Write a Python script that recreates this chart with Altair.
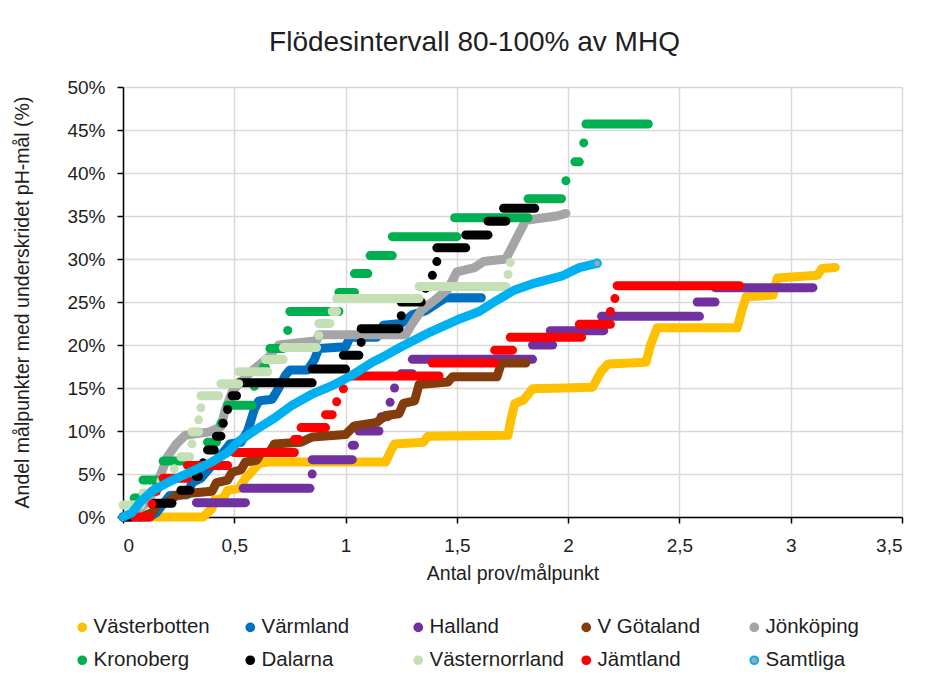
import altair as alt
import pandas as pd

SERIES = ["Västerbotten", "Värmland", "Halland", "V Götaland", "Jönköping",
          "Kronoberg", "Dalarna", "Västernorrland", "Jämtland", "Samtliga"]
COLORS = ["#FFC000", "#0070C0", "#7030A0", "#843C0C", "#A5A5A5",
          "#00B050", "#000000", "#C5E0B4", "#FF0000", "#00B0F0"]
FILLS = ["#FFC000", "#0070C0", "#7030A0", "#843C0C", "#A5A5A5",
         "#00B050", "#000000", "#C5E0B4", "#FF0000", "#A5A5A5"]

X_TICKS = [0, 0.5, 1, 1.5, 2, 2.5, 3, 3.5]
Y_TICKS = [0, 5, 10, 15, 20, 25, 30, 35, 40, 45, 50]

# ---- staircase series read as polylines (x = prov/målpunkt, y = %) ----
VBOT_X = [0.13, 0.36, 0.38, 0.40, 0.41, 0.45, 0.47, 0.52, 0.55, 0.58, 0.61, 0.65, 1.18, 1.20, 1.22, 1.35, 1.37,
          1.73, 1.74, 1.76, 1.80, 1.84, 2.11, 2.15, 2.18, 2.35, 2.37, 2.40, 2.76, 2.78, 2.80, 2.92, 2.94, 3.12, 3.14, 3.20]
VBOT_Y = [0.0, 0.0, 0.5, 1.0, 2.0, 2.2, 3.1, 3.3, 4.5, 5.3, 6.2, 6.4, 6.4, 7.5, 8.5, 8.7, 9.4,
          9.5, 11.0, 13.2, 13.6, 14.9, 15.1, 17.0, 17.8, 18.0, 20.0, 22.0, 22.0, 24.0, 25.6, 25.8, 27.8, 28.1, 28.9, 29.0]

VARM_X = [0.00, 0.12, 0.15, 0.18, 0.21, 0.29, 0.31, 0.35, 0.40, 0.45, 0.48, 0.53, 0.56, 0.59, 0.61, 0.67, 0.70,
          0.73, 0.75, 0.83, 0.86, 0.88, 1.00, 1.02, 1.14, 1.17, 1.25, 1.30, 1.36, 1.42, 1.45, 1.61]
VARM_Y = [0.0, 0.0, 0.5, 1.5, 2.5, 2.6, 4.0, 4.5, 6.0, 7.5, 8.5, 8.7, 10.0, 12.5, 13.5, 13.7, 15.0,
          16.5, 17.1, 17.1, 18.3, 19.6, 19.8, 20.9, 20.9, 22.3, 22.5, 23.5, 24.0, 25.0, 25.5, 25.5]

VGOT_X = [0.08, 0.13, 0.16, 0.20, 0.24, 0.31, 0.40, 0.42, 0.47, 0.49, 0.53, 0.55, 0.60, 0.62, 0.66, 0.68, 0.80,
          0.85, 1.00, 1.04, 1.14, 1.18, 1.24, 1.26, 1.31, 1.33, 1.46, 1.48, 1.68, 1.70, 1.81]
VGOT_Y = [0.0, 0.5, 1.5, 1.7, 2.5, 2.8, 3.0, 4.0, 4.3, 5.2, 5.5, 6.4, 6.6, 7.4, 7.6, 8.5, 8.7,
          9.3, 9.6, 10.6, 11.0, 11.8, 12.0, 13.2, 13.5, 15.4, 15.7, 16.3, 16.3, 17.9, 17.9]

JONK_X = [0.00, 0.05, 0.10, 0.14, 0.17, 0.20, 0.24, 0.28, 0.39, 0.44, 0.46, 0.49, 0.52, 0.58, 0.65, 0.70, 0.87,
          0.88, 1.27, 1.30, 1.34, 1.40, 1.46, 1.50, 1.58, 1.62, 1.72, 1.76, 1.81, 1.95, 1.99]
JONK_Y = [0.0, 0.5, 1.5, 3.0, 5.0, 7.0, 8.5, 9.5, 9.9, 10.5, 12.5, 14.5, 15.5, 17.0, 18.5, 20.0, 20.5,
          21.2, 21.2, 22.5, 24.0, 25.2, 26.5, 28.5, 29.0, 29.7, 30.0, 32.0, 34.5, 35.0, 35.3]

SAMT_X = [0.00, 0.04, 0.08, 0.13, 0.20, 0.30, 0.40, 0.47, 0.52, 0.60, 0.68, 0.76, 0.85, 0.95, 1.03, 1.12,
          1.16, 1.25, 1.38, 1.50, 1.60, 1.68, 1.76, 1.85, 1.97, 2.05, 2.13]
SAMT_Y = [0.0, 0.5, 1.8, 3.0, 4.0, 5.2, 6.4, 7.5, 8.8, 10.2, 11.5, 13.0, 14.3, 15.4, 16.5, 18.0,
          18.5, 19.8, 21.5, 22.9, 23.9, 25.2, 26.4, 27.2, 28.0, 29.0, 29.5]

# ---- step series read as horizontal runs (start x, end x, level %) ----
KRON_X0 = [0.00, 0.05, 0.09, 0.18, 0.38, 0.44, 0.47, 0.59, 0.63, 0.66, 0.74, 0.75, 0.97, 1.04, 1.11, 1.21,
           1.49, 1.82, 1.99, 2.03, 2.07, 2.08]
KRON_X1 = [0.03, 0.08, 0.15, 0.29, 0.42, 0.45, 0.58, 0.59, 0.64, 0.72, 0.74, 0.97, 1.04, 1.10, 1.21, 1.50,
           1.82, 1.97, 1.99, 2.05, 2.07, 2.36]
KRON_Y = [0.0, 2.2, 4.3, 6.5, 8.7, 10.9, 13.0, 15.2, 17.4, 19.6, 21.7, 23.9, 26.1, 28.3, 30.4, 32.6,
          34.8, 37.0, 39.1, 41.3, 43.5, 45.7]

DAL_X0 = [0.00, 0.14, 0.26, 0.33, 0.36, 0.38, 0.42, 0.45, 0.47, 0.49, 0.52, 0.85, 0.99, 1.07, 1.07, 1.25,
          1.25, 1.36, 1.39, 1.41, 1.41, 1.54, 1.64, 1.71]
DAL_X1 = [0.04, 0.22, 0.30, 0.34, 0.36, 0.41, 0.44, 0.45, 0.47, 0.51, 0.85, 1.00, 1.06, 1.07, 1.24, 1.25,
          1.34, 1.36, 1.39, 1.41, 1.54, 1.64, 1.72, 1.85]
DAL_Y = [0.0, 1.6, 3.1, 4.7, 6.3, 7.8, 9.4, 10.9, 12.5, 14.1, 15.6, 17.2, 18.8, 20.3, 21.9, 23.4,
         25.0, 26.6, 28.1, 29.7, 31.3, 32.8, 34.4, 35.9]

VNOR_X0 = [0.00, 0.09, 0.17, 0.23, 0.26, 0.31, 0.31, 0.34, 0.35, 0.35, 0.44, 0.52, 0.64, 0.72, 0.88, 0.88,
           0.94, 0.96, 1.33, 1.73, 1.74]
VNOR_X1 = [0.08, 0.10, 0.21, 0.23, 0.30, 0.31, 0.34, 0.34, 0.35, 0.43, 0.52, 0.65, 0.72, 0.87, 0.88, 0.93,
           0.96, 1.33, 1.72, 1.73, 1.74]
VNOR_Y = [1.4, 2.8, 4.2, 5.6, 7.0, 8.5, 9.9, 11.3, 12.7, 14.1, 15.5, 16.9, 18.3, 19.7, 21.1, 22.5,
          23.9, 25.4, 26.8, 28.2, 29.6]

HAL_X0 = [0.33, 0.54, 0.85, 0.85, 1.03, 1.06, 1.16, 1.20, 1.22, 1.25, 1.30, 1.84, 1.92, 2.15, 2.58, 2.66]
HAL_X1 = [0.55, 0.84, 0.85, 1.03, 1.04, 1.15, 1.19, 1.20, 1.22, 1.30, 1.84, 1.93, 2.16, 2.59, 2.66, 3.10]
HAL_Y = [1.67, 3.33, 5.0, 6.67, 8.33, 10.0, 11.67, 13.33, 15.0, 16.67, 18.33, 20.0, 21.67, 23.33, 25.0, 26.67]

JAMT_X0 = [0.05, 0.13, 0.13, 0.18, 0.29, 0.50, 0.77, 0.80, 0.91, 0.96, 0.99, 1.02, 1.39, 1.67, 1.74, 2.05,
           2.19, 2.21, 2.22]
JAMT_X1 = [0.12, 0.13, 0.15, 0.29, 0.47, 0.77, 0.79, 0.91, 0.94, 0.96, 0.99, 1.42, 1.67, 1.75, 2.06, 2.19,
           2.19, 2.21, 2.77]
JAMT_Y = [0.0, 1.5, 3.0, 4.5, 6.0, 7.5, 9.0, 10.4, 11.9, 13.4, 14.9, 16.4, 17.9, 19.4, 20.9, 22.4,
          23.9, 25.4, 26.9]

rows = []


def add_poly(name, xs, ys):
    for i, (x, y) in enumerate(zip(xs, ys)):
        rows.append({"s": name, "seg": 0, "i": i, "x": x, "y": y})


def add_runs(name, x0s, x1s, ys):
    for k, (a, b, y) in enumerate(zip(x0s, x1s, ys)):
        rows.append({"s": name, "seg": k, "i": 0, "x": a, "y": y})
        rows.append({"s": name, "seg": k, "i": 1, "x": b, "y": y})


add_poly("Västerbotten", VBOT_X, VBOT_Y)
add_poly("Värmland", VARM_X, VARM_Y)
add_runs("Halland", HAL_X0, HAL_X1, HAL_Y)
add_poly("V Götaland", VGOT_X, VGOT_Y)
add_poly("Jönköping", JONK_X, JONK_Y)
add_runs("Kronoberg", KRON_X0, KRON_X1, KRON_Y)
add_runs("Dalarna", DAL_X0, DAL_X1, DAL_Y)
add_runs("Västernorrland", VNOR_X0, VNOR_X1, VNOR_Y)
add_runs("Jämtland", JAMT_X0, JAMT_X1, JAMT_Y)
add_poly("Samtliga", SAMT_X, SAMT_Y)

df = pd.DataFrame(rows)
end_df = pd.DataFrame([{"s": "Samtliga", "x": SAMT_X[-1], "y": SAMT_Y[-1]}])

FONT = "Liberation Sans"
TXT = "#1e1e1e"

x_enc = alt.X("x:Q", scale=alt.Scale(domain=[0, 3.5], nice=False, zero=False),
              axis=alt.Axis(values=X_TICKS, labelExpr="replace(toString(datum.value), '.', ',')",
                            labelPadding=13,
                            title="Antal prov/målpunkt", titleY=56, titleBaseline="middle"))
y_enc = alt.Y("y:Q", scale=alt.Scale(domain=[0, 50], nice=False),
              axis=alt.Axis(values=Y_TICKS, labelExpr="datum.value + '%'", labelPadding=12,
                            title="Andel målpunkter med underskridet pH-mål (%)",
                            titleX=-101, titleY=215, titleAlign="center", titleBaseline="middle",
                            titleAngle=270))

stroke_scale = alt.Scale(domain=SERIES, range=COLORS)
fill_scale = alt.Scale(domain=SERIES, range=FILLS)

legend_def = alt.Legend(orient="none", legendX=-51, legendY=530, direction="horizontal", columns=5,
                        title=None, symbolType="circle", symbolSize=60, symbolStrokeWidth=2,
                        labelFontSize=20.5, labelFont=FONT, labelColor=TXT, labelOffset=1,
                        columnPadding=12, rowPadding=12, gridAlign="all", padding=0)

layers = []
for name in SERIES:
    layers.append(
        alt.Chart(df).transform_filter(alt.datum.s == name)
        .mark_line(strokeWidth=9, strokeCap="round", strokeJoin="round")
        .encode(x=x_enc, y=y_enc,
                stroke=alt.Stroke("s:N", scale=stroke_scale, legend=legend_def),
                detail="seg:N", order="i:Q")
    )

end_pt = alt.Chart(end_df).mark_point(filled=True, size=55, strokeWidth=2, opacity=1).encode(
    x=x_enc, y=y_enc,
    fill=alt.Fill("s:N", scale=fill_scale, legend=legend_def),
    stroke=alt.Stroke("s:N", scale=stroke_scale, legend=legend_def),
)
layers.append(end_pt)

chart = alt.layer(*layers).properties(
    width=779, height=430,
    background="white",
    padding={"left": 123, "top": 87, "right": 26, "bottom": 165},
    autosize=alt.AutoSizeParams(type="none"),
    title=alt.TitleParams("Flödesintervall 80-100% av MHQ", frame="group", offset=21, dx=-38,
                          fontSize=28, font=FONT, fontWeight="normal", color=TXT, anchor="middle"),
).configure_view(stroke=None).configure_axis(
    labelFont=FONT, labelFontSize=19, labelColor=TXT, titleFont=FONT, titleFontSize=19.5,
    titleColor=TXT, titleFontWeight="normal", domainColor="#000000", domainWidth=1.5,
    tickColor="#000000", tickSize=6, tickWidth=1.5, gridColor="#D9D9D9", gridWidth=1.5,
)

chart.save("out.html", embed_options={"renderer": "svg", "actions": False})
